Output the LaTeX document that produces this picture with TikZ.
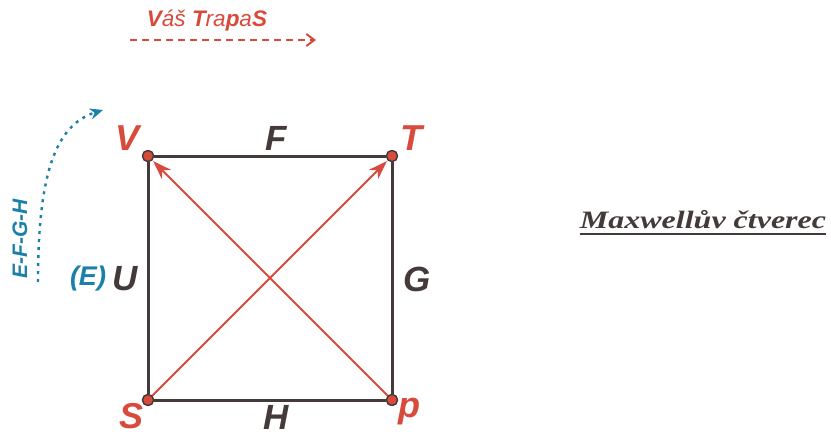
\documentclass[tikz,border=0pt]{standalone}
\usepackage{fontspec}
\setmainfont{Liberation Sans}
\newfontfamily\serifbi{Liberation Serif}
\usetikzlibrary{arrows.meta}

\definecolor{myred}{HTML}{D84A3C}
\definecolor{mydark}{HTML}{453A3A}
\definecolor{myblue}{HTML}{1A7FAA}

\begin{document}
\begin{tikzpicture}[
    x=1pt, y=-1pt,
    corner/.style={circle, fill=myred, draw=mydark, line width=1.3pt, minimum size=11pt, inner sep=0pt},
    vertlab/.style={text=myred, font=\fontsize{36}{36}\selectfont\bfseries\itshape, inner sep=0pt},
    sidelab/.style={text=mydark, font=\fontsize{35}{35}\selectfont\bfseries\itshape, inner sep=0pt},
    side/.style={draw=mydark, line width=3pt},
    diag/.style={draw=myred, line width=1.8pt, -{Stealth[length=19pt,width=13pt]}, shorten >=1pt}
]
\useasboundingbox (0,0) rectangle (831,436);

% ==================== SQUARE ====================
\node[corner] (V) at (148,156) {};
\node[corner] (T) at (392,156) {};
\node[corner] (S) at (148,400) {};
\node[corner] (p) at (392,400) {};

\draw[side] (V) -- (T) -- (p) -- (S) -- (V);

% Diagonals
\draw[diag] (S) -- (T);
\draw[diag] (p) -- (V);

% redraw corners on top
\foreach \xy in {(148,156), (392,156), (148,400), (392,400)}
    \node[corner] at \xy {};

% Vertex labels
\node[vertlab] (lV) at (128,138) {V};
\node[vertlab] (lT) at (411,138) {T};
\node[vertlab] (lS) at (132,416) {S};
\node[vertlab] (lp) at (409,412) {p};

% Side labels
\node[sidelab] (lF) at (276,138) {F};
\node[sidelab] (lH) at (276,417) {H};
\node[sidelab] (lU) at (125,279) {U};
\node[sidelab] (lG) at (417,279) {G};
\node[text=myblue, font=\fontsize{27}{27}\selectfont\bfseries\itshape, inner sep=0pt] (lE) at (88,279) {(E)};

% ==================== MNEMONIC ====================
\node[text=myred, font=\fontsize{22.5}{22.5}\selectfont\itshape, inner sep=0pt] (title) at (207,21)
    {\textbf{V}áš \textbf{T}ra\textbf{p}a\textbf{S}};
\coordinate (dashA) at (130,40);
\coordinate (dashB) at (316,40);
\draw[myred, line width=2.6pt, dash pattern=on 7pt off 5pt, -{Straight Barb[length=8pt,width=12pt,line width=2pt]}] (dashA) -- (dashB);

% Blue order arrow
\node[text=myblue, font=\fontsize{21}{21}\selectfont\bfseries\itshape, rotate=90, inner sep=0pt] (order) at (20,239) {E-F-G-H};
\coordinate (curA) at (38,282);
\coordinate (curB) at (103,110);
\draw[myblue, line width=2.4pt, dash pattern=on 3pt off 5pt, -{Stealth[length=13pt,width=11pt]}]
    (curA) .. controls (38,175) and (55,125) .. (curB);

% ==================== CAPTION ====================
\node[text=mydark, font=\serifbi\fontsize{25}{25}\selectfont\bfseries\itshape, xscale=1.28, inner sep=0pt] (caption) at (703,220) {Maxwellův čtverec};
\draw[mydark, line width=2pt] ([yshift=-5pt]caption.south west) -- ([yshift=-5pt]caption.south east);

\end{tikzpicture}
\end{document}
